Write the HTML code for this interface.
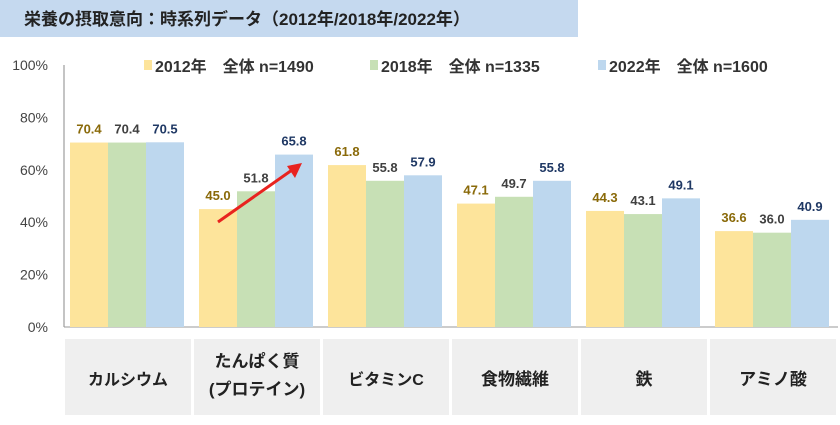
<!DOCTYPE html>
<html><head><meta charset="utf-8"><style>
body{margin:0;width:840px;height:420px;background:#fff;overflow:hidden;font-family:"Liberation Sans","Noto Sans CJK JP",sans-serif}
svg text{font-family:"Liberation Sans","Noto Sans CJK JP",sans-serif}
</style></head><body>
<svg id="c" width="840" height="420">
<rect x="0" y="0" width="578" height="37" fill="#c5d9ef"/>
<text x="24" y="25" font-size="17" font-weight="bold" fill="#222">栄養の摂取意向：時系列データ（2012年/2018年/2022年）</text>
<g id="legend"></g>
<g id="plot"></g>
<line x1="218" y1="222" x2="292" y2="170" stroke="#e8231f" stroke-width="3"/>
<polygon points="302,163 287,166 295,178" fill="#e8231f"/>
</svg>
<script>
const categories=["カルシウム","たんぱく質|(プロテイン)","ビタミンC","食物繊維","鉄","アミノ酸"];
const s2012=[70.4,45.0,61.8,47.1,44.3,36.6];
const s2018=[70.4,51.8,55.8,49.7,43.1,36.0];
const s2022=[70.5,65.8,57.9,55.8,49.1,40.9];
const seriesNames=["2012年　全体 n=1490","2018年　全体 n=1335","2022年　全体 n=1600"];
const yTicks=[0,20,40,60,80,100];
const NS="http://www.w3.org/2000/svg";
const fills=["#fde49b","#c7e0b5","#bdd7ee"],lab=["#8a6a0a","#404040","#1f3864"];
const x0=64,y0=327,pxPer=2.62,gw=129,bw=38,pad=6;
const y=v=>y0-v*pxPer;
const svg=document.getElementById('plot');
function mk(t,a,p){const e=document.createElementNS(NS,t);for(const k in a)e.setAttribute(k,a[k]);(p||svg).appendChild(e);return e;}
yTicks.forEach(t=>{const e=mk('text',{x:48,y:y(t)+5,'font-size':14,fill:'#444','text-anchor':'end'});e.textContent=t+'%';

});
const ax=mk('line',{x1:x0,y1:y(100),x2:x0,y2:y0,stroke:'#888'});


const bx=mk('line',{x1:x0,y1:y0,x2:838,y2:y0,stroke:'#999'});


const series=[s2012,s2018,s2022];
categories.forEach((c,i)=>{
 const gx=x0+pad+i*gw;
 series.forEach((s,j)=>{
  const r=mk('rect',{x:gx+j*bw,y:y(s[i]),width:bw,height:y0-y(s[i]),fill:fills[j]});
  
  
  const t=mk('text',{x:gx+j*bw+bw/2,y:y(s[i])-9,'font-size':13,'font-weight':'bold',fill:lab[j],'text-anchor':'middle'});
  t.textContent=s[i].toFixed(1);
  
  
 });
 const cx=x0+1+i*gw;
 const b=mk('rect',{x:cx,y:339,width:gw-3,height:76,fill:'#efefef'});
 
 
 const parts=c.split('|');
 parts.forEach((p,k)=>{
  const t=mk('text',{x:cx+(gw-3)/2,y:parts.length>1?367+k*28:385,'font-size':p.length>4&&parts.length==1?16:17,'font-weight':'bold',fill:'#222','text-anchor':'middle'});
  t.textContent=p;
  
  
 });
});
const lg=document.getElementById('legend');
const lx=[144,370,598];
seriesNames.forEach((n,j)=>{
 const r=mk('rect',{x:lx[j],y:60,width:8,height:10,fill:fills[j]},lg);
 
 
 const t=mk('text',{x:lx[j]+11,y:72,'font-size':16,'font-weight':'bold',fill:'#333'},lg);
 t.textContent=n;
 
 
});
</script>
</body></html>
